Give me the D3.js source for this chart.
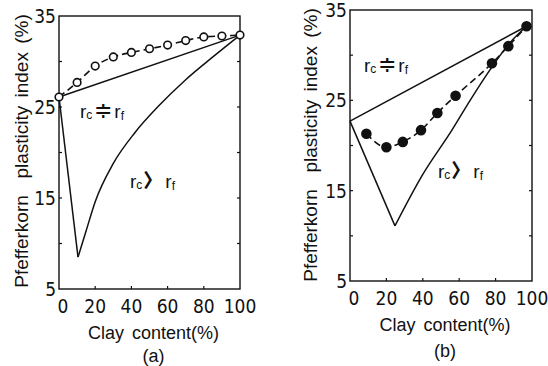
<!DOCTYPE html>
<html>
<head>
<meta charset="utf-8">
<script src="https://cdn.jsdelivr.net/npm/d3@7"></script>
<style>
  body { margin: 0; background: #fff; }
  svg { display: block; }
  .num { font-family: "Liberation Sans Narrow", "DejaVu Sans Condensed", "Arial Narrow", sans-serif; font-size: 19px; fill: #111; }
  .lbl { font-family: "Liberation Sans", Arial, sans-serif; font-size: 18px; fill: #111; }
  .rr { font-family: "Liberation Sans", Arial, sans-serif; font-size: 19px; fill: #111; }
</style>
</head>
<body>
<div id="chart"></div>
<script>
// shared axes
var xTicks = [0, 20, 40, 60, 80, 100]
var yTicks = [5, 15, 25, 35]
var minorY = [10, 15, 20, 25, 30]
var minorX = [20, 40, 60, 80]

// panel (a) - open circles
var aOpenX = [0, 10, 20, 30, 40, 50, 60, 70, 80, 90, 100]
var aOpenY = [26.1, 27.7, 29.5, 30.5, 31.0, 31.4, 31.8, 32.3, 32.7, 32.8, 32.9]
var aChordX = [0, 100]
var aChordY = [26.1, 32.9]
var aDropX = [0, 10.5]
var aDropY = [26.1, 8.5]
var aCurveX = [10.5, 15, 20, 30, 42, 55, 70, 85, 100]
var aCurveY = [8.5, 11.4, 14.6, 18.8, 22.2, 25.1, 28.0, 30.5, 32.9]

// panel (b) - filled circles
var bFilledX = [9, 20, 29, 39, 48, 58, 78, 87, 97]
var bFilledY = [21.3, 19.8, 20.4, 21.7, 23.6, 25.5, 29.1, 31.0, 33.2]
var bChordX = [0, 97]
var bChordY = [22.7, 33.2]
var bDropX = [0, 24.7]
var bDropY = [22.7, 11.1]
var bCurveX = [24.7, 40, 56, 66, 77, 88, 97]
var bCurveY = [11.1, 16.8, 21.7, 25.0, 28.4, 31.4, 33.2]

var W = 548, H = 366

var svg = d3.select("#chart").append("svg")
  .attr("width", W)
  .attr("height", H)

function zip(xs, ys){
  return xs.map(function(x, i){ return [x, ys[i]] })
}

function drawPanel(p){
  var x = d3.scaleLinear().domain([0, 100]).range([p.left, p.right])
  var y = d3.scaleLinear().domain([5, 35]).range([p.bottom, p.top])
  var g = svg.append("g")

  // frame
  g.append("rect")
    .attr("x", p.left).attr("y", p.top)
    .attr("width", p.right - p.left).attr("height", p.bottom - p.top)
    .attr("fill", "none").attr("stroke", "#111").attr("stroke-width", 1.4)

  // inward ticks
  minorY.forEach(function(v){
    g.append("line").attr("x1", p.left).attr("x2", p.left + 3)
      .attr("y1", y(v)).attr("y2", y(v)).attr("stroke", "#111").attr("stroke-width", 1.2)
    g.append("line").attr("x1", p.right).attr("x2", p.right - 3)
      .attr("y1", y(v)).attr("y2", y(v)).attr("stroke", "#111").attr("stroke-width", 1.2)
  })
  minorX.forEach(function(v){
    g.append("line").attr("x1", x(v)).attr("x2", x(v))
      .attr("y1", p.bottom).attr("y2", p.bottom - 3).attr("stroke", "#111").attr("stroke-width", 1.2)
  })

  // tick labels
  g.selectAll(".yl").data(yTicks).enter().append("text")
    .attr("class", "num")
    .attr("x", p.left - 3)
    .attr("y", function(d){ return y(d) })
    .attr("dy", "0.36em")
    .attr("text-anchor", "end")
    .text(function(d){ return d })
  g.selectAll(".xl").data(xTicks).enter().append("text")
    .attr("class", "num")
    .attr("x", function(d){ return x(d) + (d == 0 ? 4 : 0) })
    .attr("y", p.bottom + 17)
    .attr("dy", "0.36em")
    .attr("text-anchor", "middle")
    .text(function(d){ return d })

  // titles
  g.append("text").attr("class", "lbl")
    .attr("transform", "translate(" + p.ytX + "," + p.ytY + ") rotate(-90)")
    .attr("text-anchor", "middle")
    .attr("dy", "0.36em")
    .style("font-size", "19px")
    .style("word-spacing", "3px")
    .text("Pfefferkorn\u00a0\u00a0plasticity index (%)")
  g.append("text").attr("class", "lbl")
    .attr("x", (p.left + p.right) / 2 + 4).attr("y", p.xtY)
    .attr("dy", "0.36em")
    .attr("text-anchor", "middle")
    .style("word-spacing", "3px")
    .text("Clay content(%)")
  g.append("text").attr("class", "lbl")
    .attr("x", (p.left + p.right) / 2 + 4).attr("y", p.capY)
    .attr("dy", "0.36em")
    .attr("text-anchor", "middle")
    .text(p.caption)

  var line = d3.line().x(function(d){ return x(d[0]) }).y(function(d){ return y(d[1]) })
  var smooth = d3.line().curve(d3.curveMonotoneX).x(function(d){ return x(d[0]) }).y(function(d){ return y(d[1]) })

  g.append("path").attr("d", line(p.chord))
    .attr("fill", "none").attr("stroke", "#111").attr("stroke-width", 1.5)
  g.append("path").attr("d", line(p.drop))
    .attr("fill", "none").attr("stroke", "#111").attr("stroke-width", 1.5)
  g.append("path").attr("d", smooth(p.curve))
    .attr("fill", "none").attr("stroke", "#111").attr("stroke-width", 1.5)
  g.append("path").attr("d", smooth(p.pts))
    .attr("fill", "none").attr("stroke", "#111").attr("stroke-width", 1.6)
    .attr("stroke-dasharray", "7,4")

  g.selectAll(".pt").data(p.pts).enter().append("circle")
    .attr("cx", function(d){ return x(d[0]) })
    .attr("cy", function(d){ return y(d[1]) })
    .attr("r", p.filled ? 4.5 : 3.8)
    .attr("fill", p.filled ? "#111" : "#fff")
    .attr("stroke", "#111").attr("stroke-width", 1.6)

  // region labels
  var t1 = g.append("text").attr("class", "rr").attr("x", p.eqX).attr("y", p.eqY)
  t1.append("tspan").text("r")
  t1.append("tspan").attr("font-size", "12px").attr("dy", 1).text("c")
  t1.append("tspan").attr("dy", -1).attr("dx", 2).attr("font-size", "22px").text("\u2251")
  t1.append("tspan").attr("dx", 2).text("r")
  t1.append("tspan").attr("font-size", "12px").attr("dy", 2).text("f")

  var t2 = g.append("text").attr("class", "rr").attr("x", p.gtX).attr("y", p.gtY)
  t2.append("tspan").text("r")
  t2.append("tspan").attr("font-size", "12px").attr("dy", 1).text("c")
  t2.append("tspan").attr("dy", -1).attr("dx", 1)
    .style("font-family", "'Noto Sans CJK JP', sans-serif").attr("font-weight", 900).text("\u3009")
  t2.append("tspan").attr("dx", 3).text("r")
  t2.append("tspan").attr("font-size", "12px").attr("dy", 2).text("f")
}

drawPanel({
  left: 59, right: 240, top: 16, bottom: 289,
  ytX: 21, ytY: 151, xtY: 333, capY: 356, caption: "(a)",
  chord: zip(aChordX, aChordY), drop: zip(aDropX, aDropY), curve: zip(aCurveX, aCurveY),
  pts: zip(aOpenX, aOpenY), filled: false,
  eqX: 80, eqY: 118, gtX: 130, gtY: 188
})

drawPanel({
  left: 350, right: 532, top: 10, bottom: 281,
  ytX: 310, ytY: 145, xtY: 325, capY: 351, caption: "(b)",
  chord: zip(bChordX, bChordY), drop: zip(bDropX, bDropY), curve: zip(bCurveX, bCurveY),
  pts: zip(bFilledX, bFilledY), filled: true,
  eqX: 364, eqY: 72, gtX: 438, gtY: 178
})
</script>
</body>
</html>
